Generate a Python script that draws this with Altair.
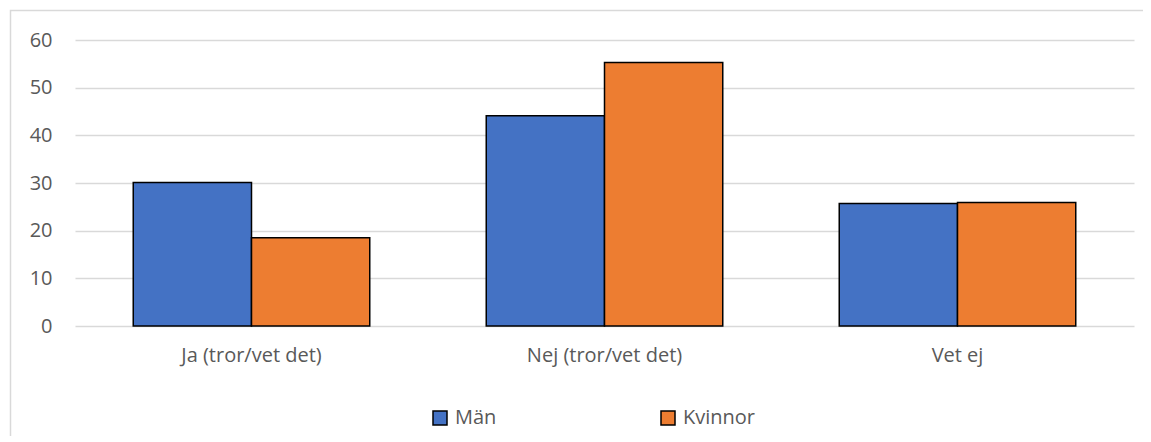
import altair as alt
import pandas as pd

categories = ["Ja (tror/vet det)", "Nej (tror/vet det)", "Vet ej"]
series = ["Män", "Kvinnor"]
man_values = [30.1, 44.1, 25.7]
kvinnor_values = [18.5, 55.3, 25.9]
colors = ["#4472C4", "#ED7D31"]

rows = []
for i, c in enumerate(categories):
    rows.append({"kategori": c, "serie": series[0], "varde": man_values[i]})
    rows.append({"kategori": c, "serie": series[1], "varde": kvinnor_values[i]})
df = pd.DataFrame(rows)

FONT = "Open Sans"
TXT = "#595959"
GRID = "#D9D9D9"
FS = 20

bars = alt.Chart(df).mark_bar(stroke="black", strokeWidth=1.5).encode(
    x=alt.X("kategori:N", sort=categories, title=None,
            scale=alt.Scale(paddingInner=0.33, paddingOuter=0.165),
            axis=alt.Axis(labelAngle=0, ticks=False, domain=False, labelPadding=19)),
    xOffset=alt.XOffset("serie:N", sort=series, scale=alt.Scale(paddingInner=0, paddingOuter=0)),
    y=alt.Y("varde:Q", title=None,
            scale=alt.Scale(domain=[0, 60], nice=False),
            axis=alt.Axis(values=[0, 10, 20, 30, 40, 50, 60], ticks=False, domain=False,
                          labelPadding=23, gridColor=GRID, gridWidth=1.5)),
    color=alt.Color("serie:N", sort=series,
                    scale=alt.Scale(domain=series, range=colors),
                    legend=alt.Legend(title=None, orient="none", legendX=355, legendY=368,
                                      direction="horizontal", symbolType="square",
                                      symbolSize=196, symbolStrokeColor="black",
                                      symbolStrokeWidth=1.5, labelOffset=5,
                                      columnPadding=161)),
)

frame = alt.Chart(alt.Data(values=[{}])).mark_rect(
    fill=None, stroke=GRID, strokeWidth=1.5
).encode(
    x=alt.value(-64.5), x2=alt.value(1200), y=alt.value(-29.5), y2=alt.value(500)
)

chart = alt.layer(frame, bars).properties(
    width=1059, height=286,
    autosize=alt.AutoSizeParams(type="none"),
    padding={"left": 67, "top": 32, "right": 9, "bottom": 110},
).configure_view(stroke=None).configure_axis(
    labelFont=FONT, labelFontSize=FS, labelColor=TXT
).configure_legend(
    labelFont=FONT, labelFontSize=FS, labelColor=TXT
)

chart.save("out.html", embed_options={"renderer": "svg", "actions": False})
